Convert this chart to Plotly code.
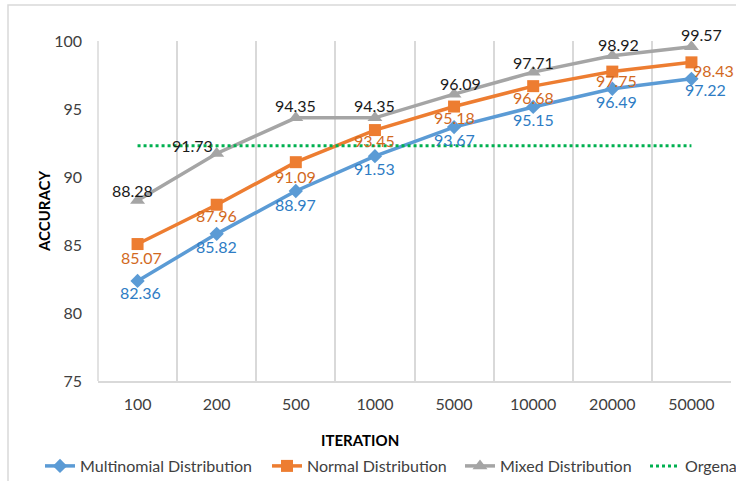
import plotly.graph_objects as go

iterations = ["100", "200", "500", "1000", "5000", "10000", "20000", "50000"]
multinomial = [82.36, 85.82, 88.97, 91.53, 93.67, 95.15, 96.49, 97.22]
normal = [85.07, 87.96, 91.09, 93.45, 95.18, 96.68, 97.75, 98.43]
mixed = [88.28, 91.73, 94.35, 94.35, 96.09, 97.71, 98.92, 99.57]
organa = [92.3] * 8

FONT = "Lato, Carlito, sans-serif"

# plot area in pixels
L, R, T, B = 98, 731, 41, 381
W, H = R - L, B - T


def px_x(p):
    return (p - L) / W


def px_y(p):
    return (B - p) / H


# label offsets (pixels) per series, styling only
multi_dx = [3, 0, 0, 0, 0, 0, 4, 14]
multi_dy = [-12, -13, -13, -12, -12, -13, -13, -11]
normal_dx = [4, 0, 0, 0, 0, 0, 4, 22]
normal_dy = [-13, -11, -14, -10, -11, -11, -9, -8]
mixed_dx = [-5, -24, 0, 0, 6, 0, 6, 10]
mixed_dy = [10, 8, 12, 12, 11, 10, 11, 12]

fig = go.Figure()

fig.add_trace(go.Scatter(
    x=iterations, y=multinomial, name="Multinomial Distribution",
    mode="lines+markers", legend="legend",
    line=dict(color="#5B9BD5", width=3.5),
    marker=dict(symbol="diamond", size=11, color="#5B9BD5"),
))
fig.add_trace(go.Scatter(
    x=iterations, y=normal, name="Normal Distribution",
    mode="lines+markers", legend="legend2",
    line=dict(color="#ED7D31", width=3.5),
    marker=dict(symbol="square", size=12, color="#ED7D31"),
))
fig.add_trace(go.Scatter(
    x=iterations, y=mixed, name="Mixed Distribution",
    mode="lines+markers", legend="legend3",
    line=dict(color="#A5A5A5", width=3.5),
    marker=dict(symbol="triangle-up", size=13, color="#A5A5A5"),
))
fig.add_trace(go.Scatter(
    x=iterations, y=organa, name="Orgena",
    mode="lines", legend="legend4",
    line=dict(color="#00B050", width=3, dash="dot"),
))

annotations = []
for vals, dxs, dys, col in [
    (mixed, mixed_dx, mixed_dy, "#1a1a1a"),
    (normal, normal_dx, normal_dy, "#D2691E"),
    (multinomial, multi_dx, multi_dy, "#2E7CC4"),
]:
    for i, (yv, dx, dy) in enumerate(zip(vals, dxs, dys)):
        # category axis: annotations use the category index
        annotations.append(dict(
            text=f"{yv:.2f}", x=i, y=yv, xref="x", yref="y",
            showarrow=False, xanchor="center", yanchor="middle",
            xshift=dx, yshift=dy,
            font=dict(size=16, color=col, family=FONT)))

annotations += [
    dict(text="<b>ACCURACY</b>", xref="paper", yref="paper",
         x=px_x(44), y=px_y(211), xanchor="center", yanchor="middle",
         textangle=-90, showarrow=False,
         font=dict(size=15, color="#000000", family=FONT)),
    dict(text="<b>ITERATION</b>", xref="paper", yref="paper",
         x=px_x(360), y=px_y(440), xanchor="center", yanchor="middle",
         showarrow=False,
         font=dict(size=15, color="#000000", family=FONT)),
]

legend_common = dict(orientation="h", yanchor="top", y=px_y(449),
                     xanchor="left",
                     font=dict(size=16, color="#404040", family=FONT),
                     bgcolor="rgba(0,0,0,0)", itemwidth=30)

fig.update_layout(
    width=736, height=481,
    margin=dict(l=L, r=736 - R, t=T, b=481 - B, autoexpand=False),
    paper_bgcolor="white", plot_bgcolor="white",
    font=dict(family=FONT, size=16, color="#404040"),
    showlegend=True,
    legend=dict(legend_common, x=px_x(40)),
    legend2=dict(legend_common, x=px_x(267)),
    legend3=dict(legend_common, x=px_x(460)),
    legend4=dict(legend_common, x=px_x(645)),
    xaxis=dict(type="category", range=[-0.5, 7.5], tickson="boundaries",
               showgrid=True, gridcolor="#D9D9D9", gridwidth=1.5,
               showline=True, linecolor="#D9D9D9", linewidth=1.5,
               ticks="", ticklabelstandoff=8, automargin=False,
               tickfont=dict(size=16, color="#404040", family=FONT),
               zeroline=False),
    yaxis=dict(range=[75, 100], dtick=5, tick0=75, showgrid=False,
               showline=False, zeroline=False, ticks="", automargin=False,
               ticklabelstandoff=15,
               tickfont=dict(size=16, color="#404040", family=FONT)),
    annotations=annotations,
    shapes=[
        dict(type="rect", xref="paper", yref="paper",
             x0=px_x(8), x1=px_x(745), y0=px_y(490), y1=px_y(5),
             line=dict(color="#D9D9D9", width=1.5), layer="below"),
        dict(type="line", xref="paper", yref="paper",
             x0=0, x1=0, y0=0, y1=1,
             line=dict(color="#D9D9D9", width=1.5), layer="below"),
    ],
)

fig.write_html(
    "out.html",
    config={"displayModeBar": False},
    post_script="document.body.style.margin='0';document.body.style.overflow='hidden';",
)
